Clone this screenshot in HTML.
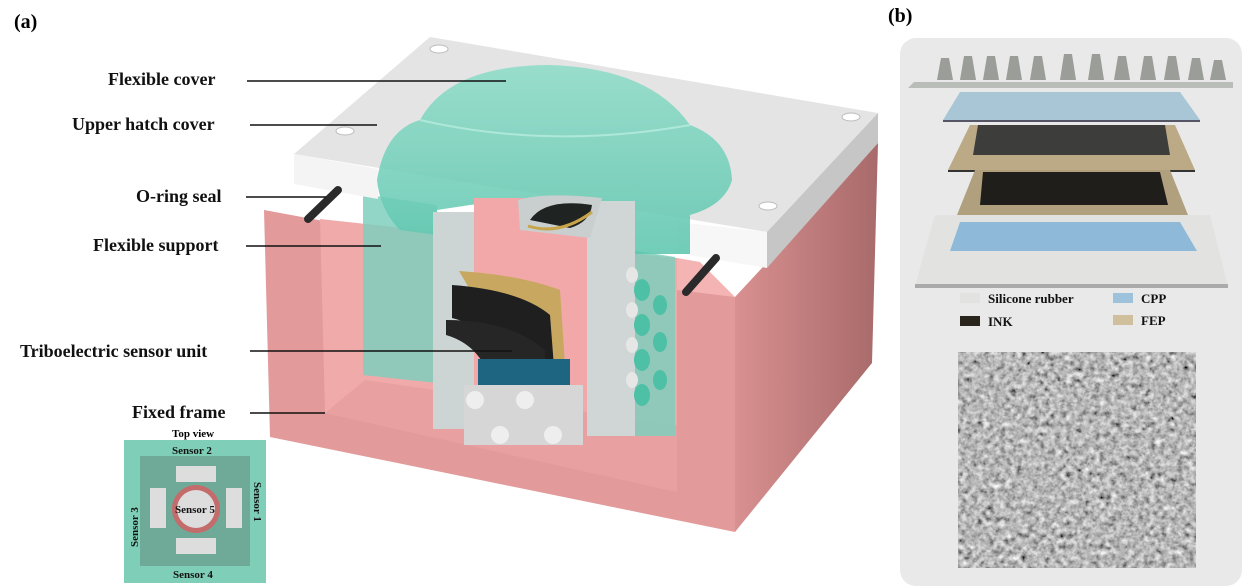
<!DOCTYPE html>
<html><head><meta charset="utf-8"><style>
body{margin:0;background:#fff;width:1248px;height:588px;overflow:hidden}
svg{display:block}
text{font-family:"Liberation Serif",serif;font-weight:bold}
</style></head><body>
<svg width="1248" height="588" viewBox="0 0 1248 588">
<defs>
<filter id="noise" x="0" y="0" width="100%" height="100%">
<feTurbulence type="fractalNoise" baseFrequency="0.18" numOctaves="3" seed="4"/>
<feColorMatrix type="matrix" values="0.33 0.33 0.33 0 0  0.33 0.33 0.33 0 0  0.33 0.33 0.33 0 0  0 0 0 0 1"/>
<feComponentTransfer><feFuncR type="linear" slope="1.8" intercept="-0.42"/><feFuncG type="linear" slope="1.8" intercept="-0.42"/><feFuncB type="linear" slope="1.8" intercept="-0.42"/></feComponentTransfer>
</filter>
<linearGradient id="dome" x1="0" y1="0" x2="0" y2="1"><stop offset="0" stop-color="#8fdcc8"/><stop offset="1" stop-color="#5ec6af"/></linearGradient>
<linearGradient id="rside" x1="0" y1="0" x2="1" y2="0"><stop offset="0" stop-color="#d99090"/><stop offset="1" stop-color="#a86a6a"/></linearGradient>
</defs>
<text x="14" y="28" font-size="20">(a)</text>
<text x="888" y="22" font-size="20">(b)</text>

<!-- pink box -->
<polygon points="264,210 735,297 735,532 270,437" fill="#e29a9a"/>
<polygon points="735,297 878,143 872,363 735,532" fill="url(#rside)"/>
<polygon points="677,258 700,262 735,297 677,290" fill="#f4b4b4"/>
<polygon points="320,219 677,258 677,492 325,413" fill="#f0aaaa"/>
<polygon points="325,413 365,380 677,425 677,492" fill="#e8a0a0"/>
<!-- teal support -->
<polygon points="363,194 437,205 437,383 363,375" fill="#7fcfbd" opacity="0.85"/>
<polygon points="630,250 675,257 675,436 630,436" fill="#7fcfbd" opacity="0.85"/>
<!-- white slab -->
<polygon points="294,154 430,37 878,113 767,232" fill="#e4e4e4"/>
<polygon points="294,154 378,169 378,199 294,184" fill="#f4f4f4"/>
<polygon points="677,222 767,232 767,268 677,253" fill="#f7f7f7"/>
<polygon points="767,232 878,113 878,143 767,268" fill="#c6c6c6"/>
<ellipse cx="439" cy="49" rx="9" ry="4" fill="#fff" stroke="#bbb"/>
<ellipse cx="345" cy="131" rx="9" ry="4" fill="#fff" stroke="#bbb"/>
<ellipse cx="851" cy="117" rx="9" ry="4" fill="#fff" stroke="#bbb"/>
<ellipse cx="768" cy="206" rx="9" ry="4" fill="#fff" stroke="#bbb"/>
<!-- O-rings -->
<line x1="308" y1="219" x2="338" y2="190" stroke="#2a2a2a" stroke-width="8" stroke-linecap="round"/>
<line x1="686" y1="292" x2="716" y2="258" stroke="#2a2a2a" stroke-width="8" stroke-linecap="round"/>
<!-- dome -->
<path d="M377,180 Q385,130 420,120 Q450,65 550,65 Q650,68 690,125 Q730,140 732,180 Q725,205 690,215 L690,254 L630,254 L630,205 Q560,195 470,205 L437,210 L437,235 L400,230 Q380,210 377,180 Z" fill="url(#dome)" opacity="0.88"/>
<path d="M420,120 Q550,150 690,125" stroke="#aee8da" stroke-width="2" fill="none"/>
<!-- inner cylinder walls -->
<rect x="433" y="212" width="41" height="217" fill="#cdd5d4"/>
<rect x="587" y="201" width="48" height="235" fill="#cfd6d5"/>
<rect x="474" y="198" width="113" height="200" fill="#f2a8a8"/>
<g fill="#4ec0a6">
<ellipse cx="642" cy="290" rx="8" ry="11"/><ellipse cx="642" cy="325" rx="8" ry="11"/><ellipse cx="642" cy="360" rx="8" ry="11"/><ellipse cx="642" cy="395" rx="8" ry="11"/>
<ellipse cx="660" cy="305" rx="7" ry="10"/><ellipse cx="660" cy="342" rx="7" ry="10"/><ellipse cx="660" cy="380" rx="7" ry="10"/>
</g>
<g fill="#e6e6e6">
<ellipse cx="632" cy="275" rx="6" ry="8"/><ellipse cx="632" cy="310" rx="6" ry="8"/><ellipse cx="632" cy="345" rx="6" ry="8"/><ellipse cx="632" cy="380" rx="6" ry="8"/>
</g>
<!-- top sensor -->
<path d="M518,200 Q545,192 602,198 L590,238 L520,230 Z" fill="#c9cfce"/>
<path d="M530,220 Q545,198 592,205 Q590,222 570,228 Z" fill="#1f2422"/>
<path d="M528,226 Q560,236 592,212" stroke="#c8a44a" stroke-width="3" fill="none"/>
<!-- triboelectric unit -->
<path d="M459,271 Q520,275 560,290 L566,380 L520,375 Z" fill="#c8a860"/>
<path d="M452,285 Q520,290 550,315 L555,380 L510,378 Q500,330 452,318 Z" fill="#1f1f1f"/>
<path d="M446,320 Q510,320 545,350 L545,380 L490,380 Q480,345 446,335 Z" fill="#262626"/>
<rect x="478" y="359" width="92" height="36" fill="#1d6580"/>
<rect x="464" y="385" width="119" height="60" fill="#d6d6d6"/>
<circle cx="475" cy="400" r="9" fill="#eee"/><circle cx="525" cy="400" r="9" fill="#eee"/><circle cx="500" cy="435" r="9" fill="#eee"/><circle cx="553" cy="435" r="9" fill="#eee"/>

<!-- labels -->
<g font-size="18" fill="#111">
<text x="108" y="85">Flexible cover</text>
<text x="72" y="130">Upper hatch cover</text>
<text x="136" y="202">O-ring seal</text>
<text x="93" y="251">Flexible support</text>
<text x="20" y="357">Triboelectric sensor unit</text>
<text x="132" y="418">Fixed frame</text>
</g>
<g stroke="#111" stroke-width="1.5">
<line x1="247" y1="81" x2="506" y2="81"/>
<line x1="250" y1="125" x2="377" y2="125"/>
<line x1="246" y1="197" x2="326" y2="197"/>
<line x1="246" y1="246" x2="381" y2="246"/>
<line x1="250" y1="351" x2="512" y2="351"/>
<line x1="250" y1="413" x2="325" y2="413"/>
</g>

<!-- inset top view -->
<text x="172" y="437" font-size="11">Top view</text>
<rect x="124" y="440" width="142" height="143" fill="#7fcfb8"/>
<rect x="140" y="456" width="110" height="110" fill="#6fa998"/>
<rect x="176" y="466" width="40" height="16" fill="#ddd"/>
<rect x="176" y="538" width="40" height="16" fill="#ddd"/>
<rect x="150" y="488" width="16" height="40" fill="#ddd"/>
<rect x="226" y="488" width="16" height="40" fill="#ddd"/>
<circle cx="196" cy="509" r="24" fill="#c46b6b"/>
<circle cx="196" cy="509" r="19" fill="#ddd"/>
<g font-size="11" fill="#111">
<text x="172" y="454">Sensor 2</text>
<text x="173" y="578">Sensor 4</text>
<text x="175" y="513">Sensor 5</text>
<text transform="translate(138,547) rotate(-90)">Sensor 3</text>
<text transform="translate(254,482) rotate(90)">Sensor 1</text>
</g>

<!-- panel b -->
<rect x="900" y="38" width="342" height="548" rx="16" fill="#e9e9e9"/>
<polygon points="914,82 1233,82 1233,88 908,88" fill="#b9bdb8"/>
<g fill="#9a9d98">
<path d="M937,80 l4,-22 h8 l4,22z"/><path d="M960,80 l4,-24 h8 l4,24z"/><path d="M983,80 l4,-24 h8 l4,24z"/><path d="M1006,80 l4,-24 h8 l4,24z"/><path d="M1030,80 l4,-24 h8 l4,24z"/><path d="M1060,80 l4,-26 h8 l4,26z"/><path d="M1088,80 l4,-26 h8 l4,26z"/><path d="M1114,80 l4,-24 h8 l4,24z"/><path d="M1140,80 l4,-24 h8 l4,24z"/><path d="M1164,80 l4,-24 h8 l4,24z"/><path d="M1188,80 l4,-22 h8 l4,22z"/><path d="M1210,80 l4,-20 h8 l4,20z"/>
</g>
<polygon points="960,92 1180,92 1200,120 943,120" fill="#a8c6d6"/>
<polygon points="943,120 1200,120 1200,122 943,122" fill="#556"/>
<polygon points="970,125 1175,125 1195,170 948,170" fill="#bca986"/>
<polygon points="978,125 1165,125 1170,155 973,155" fill="#3d3d3b"/>
<polygon points="948,170 1195,170 1195,172 948,172" fill="#333"/>
<polygon points="975,170 1170,170 1188,215 957,215" fill="#b0a07e"/>
<polygon points="983,172 1160,172 1168,205 980,205" fill="#1f1e1a"/>
<polygon points="935,215 1210,215 1228,286 915,286" fill="#dedfdc" opacity="0.7"/>
<polygon points="960,222 1180,222 1197,251 950,251" fill="#8fb9d8"/>
<rect x="915" y="284" width="313" height="4" fill="#aaa"/>
<rect x="960" y="293" width="20" height="10" fill="#e2e2e0"/>
<rect x="960" y="316" width="20" height="10" fill="#2a251c"/>
<rect x="1113" y="293" width="20" height="10" fill="#9fc2dc"/>
<rect x="1113" y="315" width="20" height="10" fill="#cfbf9c"/>
<g font-size="13" fill="#111">
<text x="988" y="303">Silicone rubber</text>
<text x="988" y="326">INK</text>
<text x="1141" y="303">CPP</text>
<text x="1141" y="325">FEP</text>
</g>
<rect x="958" y="352" width="238" height="216" fill="#777" filter="url(#noise)"/>
</svg>
</body></html>
